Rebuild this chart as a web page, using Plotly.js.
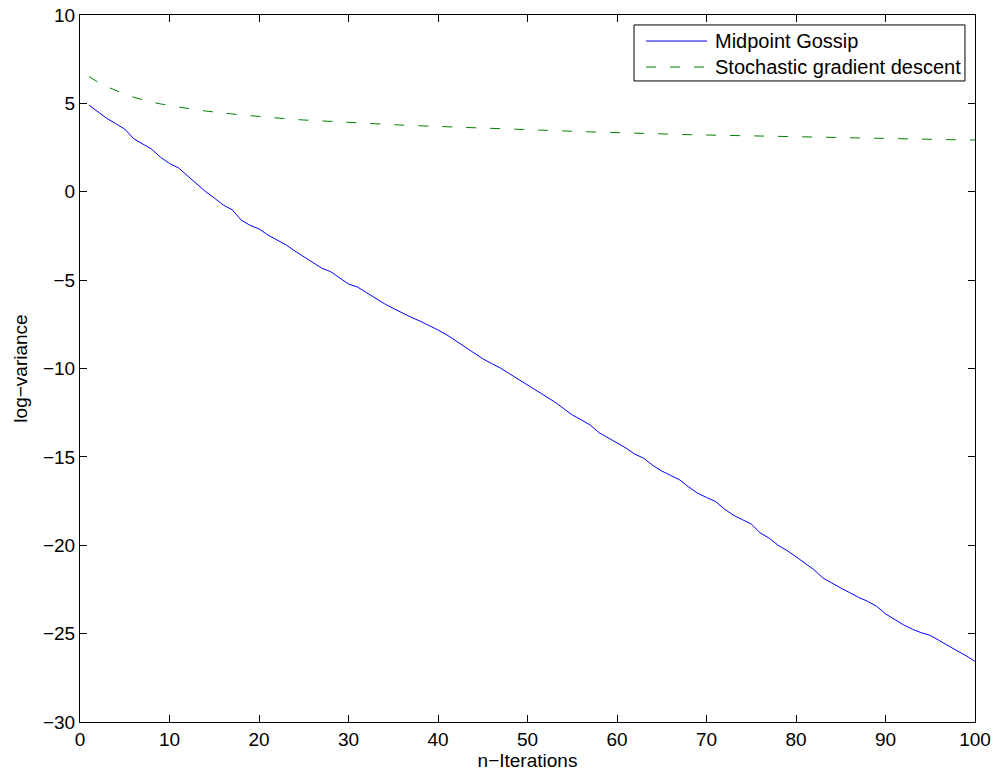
<!DOCTYPE html>
<html>
<head>
<meta charset="utf-8">
<script src="https://cdn.plot.ly/plotly-3.0.1.min.js"></script>
<style>html,body{margin:0;padding:0;background:#fff;}#chart{width:995px;height:774px;}</style>
</head>
<body>
<div id="chart"></div>
<script>
const iterations = Array.from({length: 100}, (_, i) => i + 1);

const midpointGossip = [
  4.9, 4.5, 4.15, 3.85, 3.55, 3.0, 2.7, 2.41, 1.95, 1.6,
  1.35, 0.9, 0.45, 0.02, -0.35, -0.75, -1.02, -1.6, -1.9, -2.1,
  -2.45, -2.72, -3.0, -3.35, -3.68, -4.0, -4.32, -4.52, -4.88, -5.22,
  -5.39, -5.7, -6.05, -6.33, -6.6, -6.86, -7.1, -7.32, -7.55, -7.82,
  -8.1, -8.45, -8.78, -9.15, -9.45, -9.72, -9.98, -10.3, -10.62, -10.95,
  -11.25, -11.55, -11.88, -12.25, -12.63, -12.9, -13.2, -13.63, -13.92, -14.18,
  -14.5, -14.85, -15.08, -15.48, -15.8, -16.05, -16.3, -16.7, -17.05, -17.3,
  -17.52, -17.95, -18.3, -18.55, -18.8, -19.3, -19.6, -20.0, -20.3, -20.65,
  -21.0, -21.38, -21.85, -22.15, -22.42, -22.68, -22.95, -23.17, -23.45, -23.88,
  -24.2, -24.5, -24.75, -24.95, -25.1, -25.4, -25.7, -25.97, -26.25, -26.57
];

const sgd = [
  6.52, 6.2, 5.95, 5.72, 5.52, 5.35, 5.2, 5.07, 4.97, 4.88,
  4.79, 4.71, 4.63, 4.57, 4.5, 4.45, 4.4, 4.35, 4.3, 4.25,
  4.21, 4.17, 4.13, 4.09, 4.06, 4.03, 4.0, 3.97, 3.94, 3.91,
  3.89, 3.86, 3.84, 3.81, 3.79, 3.77, 3.75, 3.73, 3.71, 3.69,
  3.67, 3.65, 3.63, 3.61, 3.6, 3.58, 3.57, 3.55, 3.54, 3.52,
  3.5, 3.48, 3.46, 3.44, 3.42, 3.40, 3.39, 3.37, 3.36, 3.34,
  3.33, 3.31, 3.30, 3.28, 3.27, 3.26, 3.24, 3.23, 3.21, 3.20,
  3.19, 3.18, 3.16, 3.15, 3.14, 3.13, 3.12, 3.11, 3.10, 3.09,
  3.08, 3.07, 3.06, 3.05, 3.04, 3.03, 3.02, 3.01, 3.0, 3.0,
  2.99, 2.98, 2.97, 2.97, 2.96, 2.95, 2.95, 2.94, 2.93, 2.93
];

const seriesNames = ['Midpoint Gossip', 'Stochastic gradient descent'];
const seriesColors = ['#0000ff', '#008000'];
const seriesDash = ['solid', '10px,14px'];

const xTicks = [0, 10, 20, 30, 40, 50, 60, 70, 80, 90, 100];
const yTicks = [-30, -25, -20, -15, -10, -5, 0, 5, 10];

const font = {family: 'Liberation Sans, Arial, sans-serif', size: 19, color: '#000'};
const legendFont = {family: 'Liberation Sans, Arial, sans-serif', size: 20, color: '#000'};

const traces = [
  {x: iterations, y: midpointGossip, type: 'scatter', mode: 'lines', name: seriesNames[0],
   showlegend: false, line: {color: seriesColors[0], width: 1, dash: seriesDash[0]}},
  {x: iterations, y: sgd, type: 'scatter', mode: 'lines', name: seriesNames[1],
   showlegend: false, line: {color: seriesColors[1], width: 1, dash: seriesDash[1]}}
];

// Custom legend box (MATLAB-style) in paper coordinates
const lg = {x0: 0.619, x1: 0.9888, y0: 0.9067, y1: 0.9859, lx0: 0.6324, lx1: 0.7006, tx: 0.7073, rows: [0.9632, 0.9264]};
const shapes = [
  {type: 'rect', xref: 'paper', yref: 'paper', x0: lg.x0, x1: lg.x1, y0: lg.y0, y1: lg.y1,
   fillcolor: '#fff', line: {color: '#000', width: 1}, layer: 'above'}
];
const annotations = [];
seriesNames.forEach((n, i) => {
  shapes.push({type: 'line', xref: 'paper', yref: 'paper', x0: lg.lx0, x1: lg.lx1, y0: lg.rows[i], y1: lg.rows[i],
    line: {color: seriesColors[i], width: 1, dash: seriesDash[i]}, layer: 'above'});
  annotations.push({xref: 'paper', yref: 'paper', x: lg.tx, y: lg.rows[i], xanchor: 'left', yanchor: 'middle',
    text: n, showarrow: false, font: legendFont});
});

const axisCommon = {
  showgrid: false, zeroline: false, showline: true, linecolor: '#000', linewidth: 1,
  mirror: 'ticks', ticks: 'inside', ticklen: 7, tickcolor: '#000', tickwidth: 1,
  tickfont: font
};

const layout = {
  width: 995, height: 774,
  margin: {l: 80, r: 20, t: 15, b: 52},
  paper_bgcolor: '#fff', plot_bgcolor: '#fff',
  font: font,
  showlegend: false,
  xaxis: Object.assign({}, axisCommon, {
    range: [0, 100], tickvals: xTicks, ticktext: xTicks.map(String),
    title: {text: 'n\u2212Iterations', font: font, standoff: 2}
  }),
  yaxis: Object.assign({}, axisCommon, {
    range: [-30, 10], tickvals: yTicks, ticktext: yTicks.map(v => v < 0 ? '\u2212' + Math.abs(v) : String(v)),
    title: {text: 'log\u2212variance', font: font, standoff: 10}
  }),
  shapes: shapes,
  annotations: annotations
};

Plotly.newPlot('chart', traces, layout, {displayModeBar: false, staticPlot: true});
</script>
</body>
</html>
